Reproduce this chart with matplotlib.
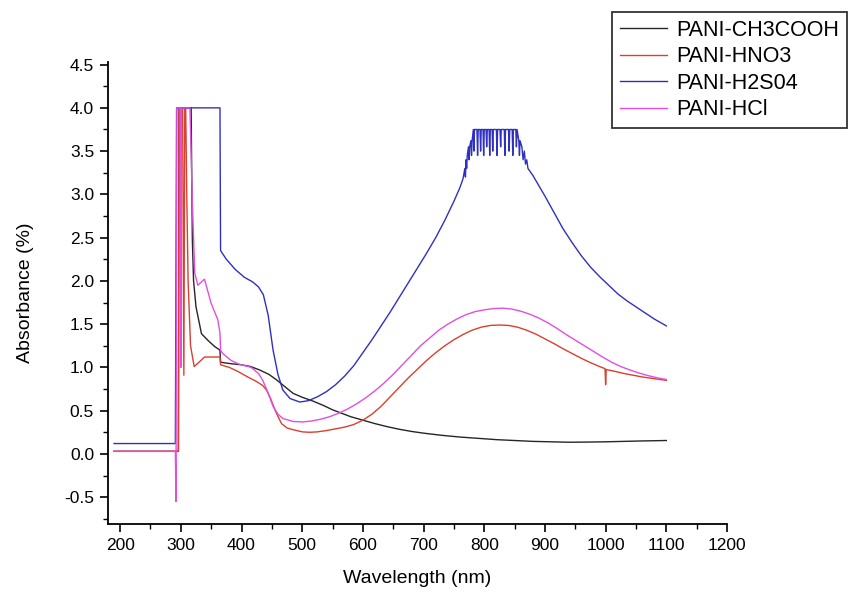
import matplotlib
matplotlib.use("Agg")
import matplotlib.pyplot as plt
from matplotlib.ticker import MultipleLocator, FormatStrFormatter

plt.rcParams['font.family'] = ['Liberation Sans', 'DejaVu Sans']
plt.rcParams['axes.unicode_minus'] = False

# UV-Vis absorbance spectra of polyaniline doped with different acids
labels = ["PANI-CH3COOH", "PANI-HNO3", "PANI-H2S04", "PANI-HCl"]
colors = ["#262626", "#d8402f", "#3030c0", "#e24ee2"]

wl_ch3cooh = [190, 296, 297, 317, 318, 319, 321, 325, 334, 345, 356, 364.5, 365.5,
              380, 400, 415, 430, 445, 457, 471, 485, 500, 518, 535, 550, 565, 580,
              600, 620, 640, 660, 680, 700, 730, 760, 790, 820, 850, 880, 910, 940,
              970, 1000, 1030, 1060, 1100]
ab_ch3cooh = [0.03, 0.03, 4.0, 4.0, 3.2, 2.47, 2.0, 1.70, 1.39, 1.31, 1.24, 1.20, 1.06,
              1.045, 1.03, 1.01, 0.97, 0.92, 0.86, 0.78, 0.70, 0.655, 0.61, 0.56, 0.51, 0.47, 0.43,
              0.39, 0.35, 0.315, 0.285, 0.26, 0.24, 0.215, 0.195, 0.18, 0.165, 0.155, 0.145, 0.14, 0.135,
              0.137, 0.14, 0.145, 0.15, 0.155]

wl_hno3 = [190, 296, 297, 303, 305, 306.5, 308, 310, 312, 316, 322, 330, 339, 364.5, 365.5,
           380, 395, 410, 424, 435, 441, 448, 455, 461, 466, 475, 485, 500, 512, 525, 540,
           555, 570, 585, 600, 615, 630, 645, 660, 675, 690, 705, 720, 735, 750, 765, 780,
           795, 810, 825, 840, 855, 870, 885, 900, 915, 930, 945, 960, 975, 990, 999, 1000,
           1001, 1015, 1030, 1045, 1060, 1075, 1090, 1100]
ab_hno3 = [0.03, 0.03, 4.0, 4.0, 0.91, 4.0, 4.0, 2.9, 2.0, 1.25, 1.01, 1.06, 1.12, 1.12, 1.03,
           1.00, 0.95, 0.89, 0.84, 0.79, 0.74, 0.64, 0.51, 0.42, 0.35, 0.30, 0.28, 0.255, 0.25, 0.255, 0.27,
           0.29, 0.31, 0.34, 0.39, 0.46, 0.55, 0.66, 0.77, 0.88, 0.98, 1.08, 1.17, 1.25, 1.32, 1.38, 1.43,
           1.465, 1.485, 1.49, 1.485, 1.465, 1.43, 1.385, 1.33, 1.275, 1.215, 1.16, 1.105, 1.055, 1.01, 0.985, 0.80,
           0.975, 0.955, 0.93, 0.91, 0.89, 0.875, 0.86, 0.85]

wl_h2so4 = [190, 291, 293, 364.5, 365.5, 375, 390, 405, 418, 428, 436, 444, 452, 460, 468, 480, 496,
            510, 525, 540, 555, 570, 585, 600, 615, 630, 645, 660, 675, 690, 705, 720, 735,
            750, 760, 765,
            768, 769, 770, 771, 772, 774, 775, 776, 778, 779, 780, 782, 783, 784, 786,
            788, 789, 790, 793, 794, 795, 798, 799, 800, 803, 804, 805, 808, 809, 810,
            813, 814, 815, 820, 821, 822, 826, 827, 828, 833, 834, 835, 840, 841, 842,
            846, 847, 848, 852, 853, 854, 857, 858, 859, 862, 864, 866, 868, 870, 872,
            880, 890, 900, 915, 930, 945, 960, 975, 990, 1005, 1020, 1035, 1050, 1065,
            1080, 1100]
ab_h2so4 = [0.12, 0.12, 4.0, 4.0, 2.35, 2.25, 2.13, 2.04, 1.99, 1.93, 1.84, 1.60, 1.20, 0.92, 0.74, 0.64, 0.60,
            0.615, 0.66, 0.72, 0.80, 0.90, 1.02, 1.17, 1.32, 1.48, 1.64, 1.81, 1.98, 2.15, 2.32, 2.50, 2.70,
            2.92, 3.08, 3.18,
            3.30, 3.20, 3.40, 3.30, 3.45, 3.55, 3.40, 3.55, 3.62, 3.45, 3.62, 3.75, 3.50, 3.75, 3.75,
            3.75, 3.45, 3.75, 3.75, 3.50, 3.75, 3.75, 3.45, 3.75, 3.75, 3.55, 3.75, 3.75, 3.45, 3.75,
            3.75, 3.50, 3.75, 3.75, 3.45, 3.75, 3.75, 3.55, 3.75, 3.75, 3.45, 3.75, 3.75, 3.50, 3.75,
            3.75, 3.45, 3.75, 3.75, 3.55, 3.75, 3.62, 3.45, 3.62, 3.55, 3.40, 3.50, 3.35, 3.40, 3.30,
            3.22, 3.10, 2.98, 2.79, 2.60, 2.44, 2.29, 2.16, 2.05, 1.95, 1.85, 1.77, 1.70, 1.63,
            1.56, 1.48]

wl_hcl = [190, 291, 292, 293.5, 299, 300, 301, 315, 319, 323, 328, 339, 350, 361, 364.5, 365.5,
          369, 383, 395, 416, 428, 435, 443, 452, 460, 468, 485, 501, 515, 530, 545, 560,
          575, 590, 605, 620, 635, 650, 665, 680, 695, 710, 725, 740, 755, 770, 785, 800,
          815, 830, 845, 860, 875, 890, 905, 920, 935, 950, 965, 980, 995, 1010, 1025, 1040,
          1055, 1070, 1085, 1100]
ab_hcl = [0.03, 0.03, -0.55, 4.0, 4.0, 1.0, 4.0, 4.0, 2.9, 2.09, 1.95, 2.02, 1.74, 1.55, 1.40, 1.20,
          1.16, 1.08, 1.04, 1.00, 0.93, 0.85, 0.72, 0.55, 0.46, 0.41, 0.375, 0.37, 0.38, 0.40, 0.43, 0.47,
          0.52, 0.58, 0.65, 0.73, 0.82, 0.92, 1.03, 1.14, 1.25, 1.34, 1.43, 1.50, 1.56, 1.61, 1.645, 1.665,
          1.68, 1.685, 1.675, 1.65, 1.615, 1.57, 1.515, 1.45, 1.38, 1.315, 1.25, 1.185, 1.12, 1.06, 1.01, 0.97,
          0.935, 0.905, 0.88, 0.86]

series = [(wl_ch3cooh, ab_ch3cooh), (wl_hno3, ab_hno3), (wl_h2so4, ab_h2so4), (wl_hcl, ab_hcl)]

fig = plt.figure(figsize=(8.52, 5.92), dpi=100)
ax = fig.add_axes([108 / 852, 68 / 592, 619 / 852, 462 / 592])

for (x, y), lab, col in zip(series, labels, colors):
    ax.plot(x, y, color=col, lw=1.0, label=lab)

ax.set_xlim(180, 1200)
ax.set_ylim(-0.81, 4.53)
ax.xaxis.set_major_locator(MultipleLocator(100))
ax.xaxis.set_minor_locator(MultipleLocator(50))
ax.yaxis.set_major_locator(MultipleLocator(0.5))
ax.yaxis.set_minor_locator(MultipleLocator(0.25))
ax.yaxis.set_major_formatter(FormatStrFormatter('%.1f'))

for s in ("top", "right"):
    ax.spines[s].set_visible(False)
for s in ("left", "bottom"):
    ax.spines[s].set_linewidth(1.3)

ax.tick_params(which="major", direction="out", length=6, width=1.2, labelsize=12.5, pad=4)
ax.tick_params(which="minor", direction="out", length=3.5, width=1.0)

ax.set_xlabel("Wavelength (nm)", fontsize=14, labelpad=12)
ax.set_ylabel("Absorbance (%)", fontsize=14, labelpad=22)

leg = fig.legend(loc="upper left", bbox_to_anchor=(612 / 852, 1 - 12 / 592),
                 bbox_transform=fig.transFigure, fontsize=15.5, frameon=True,
                 fancybox=False, edgecolor="black", borderaxespad=0, borderpad=0.35,
                 handlelength=2.2, handletextpad=0.45, labelspacing=0.26)
leg.get_frame().set_linewidth(1.3)
for h in leg.get_lines():
    h.set_linewidth(1.0)

fig.savefig("out.png", dpi=100)
